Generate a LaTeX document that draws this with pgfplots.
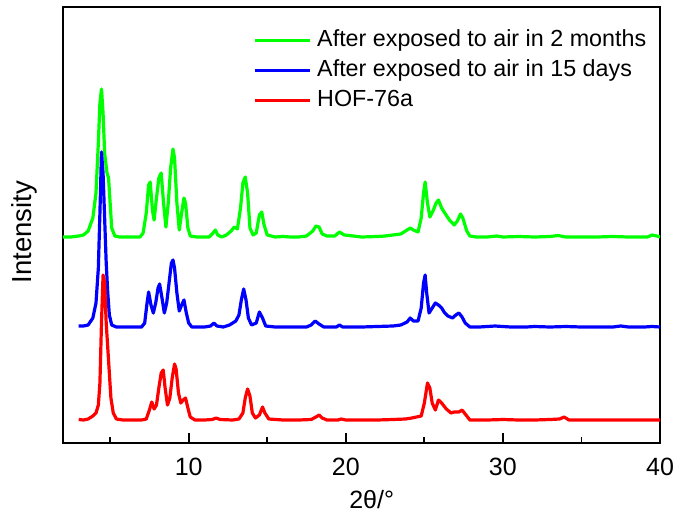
\documentclass[border=0pt]{standalone}
\usepackage{fontspec}
\setmainfont{Liberation Sans}
\usepackage{pgfplots}
\pgfplotsset{compat=1.18}
\definecolor{cgreen}{RGB}{0,255,0}
\definecolor{cblue}{RGB}{0,0,255}
\definecolor{cred}{RGB}{255,0,0}
\begin{document}
\begin{tikzpicture}
\begin{axis}[
  scale only axis, width=597pt, height=436pt,
  xmin=2, xmax=40, ymin=0, ymax=436,
  axis line style={line width=2.6pt},
  xtick={10,20,30,40}, minor xtick={5,15,25,35}, ytick=\empty,
  xtick pos=bottom, tick align=inside,
  major tick length=10pt, minor tick length=6pt,
  every tick/.style={line width=1.8pt, black},
  /pgf/number format/assume math mode=true,
  tick label style={font=\fontsize{25}{30}\selectfont},
  xticklabel style={anchor=base, yshift=-32pt},
  xlabel={2θ/°}, ylabel={Intensity},
  label style={font=\fontsize{25}{30}\selectfont},
  xlabel style={at={(axis description cs:0.517,-0.151)}, anchor=base},
  ylabel style={at={(axis description cs:-0.052,0.484)}, anchor=base, font=\fontsize{27.5}{32}\selectfont},
  legend cell align=left,
  legend style={at={(axis description cs:0.318,0.9495)}, anchor=north west, draw=none, fill=none,
    inner sep=0pt, column sep=6pt, row sep=8pt,
    nodes={inner sep=0pt, text height=17pt, text depth=5pt, font=\fontsize{23.3}{28}\selectfont}},
  legend image code/.code={\draw[#1] (0pt,0pt) -- (55pt,0pt);},
  every axis plot/.append style={line width=3.2pt, line join=round},
]
\addplot[cgreen] coordinates {
(2.0,206) (2.5,206) (3.0,207) (3.3,208) (3.6,212) (3.9,225) (4.1,250) (4.25,300) (4.35,340) (4.45,354) (4.55,330) (4.65,290) (4.8,270) (4.9,265) (5.0,240) (5.1,215) (5.3,207) (5.6,206) (6.5,206) (6.9,206) (7.1,210) (7.3,230) (7.45,258) (7.55,261) (7.7,232) (7.8,223) (7.95,245) (8.1,265) (8.25,270) (8.4,240) (8.55,216) (8.7,240) (8.85,275) (9.0,294) (9.1,285) (9.25,240) (9.4,213) (9.55,230) (9.7,245) (9.8,240) (9.95,215) (10.1,207) (10.5,206) (11.3,206) (11.55,210) (11.7,213) (11.85,208) (12.1,206) (12.4,208) (12.7,212) (12.9,216) (13.1,214) (13.3,235) (13.45,260) (13.6,266) (13.75,250) (13.9,215) (14.1,208) (14.3,210) (14.5,228) (14.65,231) (14.8,218) (15.0,208) (15.5,206) (16.0,206.5) (16.5,206) (17.0,206) (17.5,207) (17.9,212) (18.1,217) (18.3,216) (18.5,209) (18.8,207) (19.3,207) (19.6,211) (19.9,208) (20.5,207) (21,206) (22,206.5) (22.5,207) (23,208) (23.5,209) (23.8,212) (24.1,215) (24.3,213) (24.6,211) (24.8,225) (24.95,250) (25.05,261) (25.2,240) (25.35,226) (25.55,232) (25.75,240) (25.9,243) (26.1,235) (26.3,230) (26.6,223) (26.9,218) (27.1,222) (27.3,229) (27.45,225) (27.7,212) (27.9,207) (28.3,206) (29,206) (29.6,207) (30,206) (31,206.5) (32,206) (33,206.5) (33.5,207.5) (34,206) (35,206) (36,206) (37,206.5) (38,206) (39.2,206) (39.5,208) (39.8,207) (40,206)
};
\addlegendentry{After exposed to air in 2 months}
\addplot[cblue] coordinates {
(3.0,117) (3.3,117) (3.6,118) (3.9,125) (4.1,140) (4.25,175) (4.35,230) (4.45,291) (4.55,270) (4.65,225) (4.75,180) (4.85,150) (4.95,128) (5.1,118) (5.4,116) (6,116) (7.0,116) (7.2,120) (7.35,140) (7.45,151) (7.6,138) (7.75,130) (7.9,140) (8.05,155) (8.15,159) (8.3,145) (8.45,130) (8.6,140) (8.75,160) (8.9,180) (9.0,183) (9.1,175) (9.25,150) (9.4,132) (9.55,138) (9.7,143) (9.85,130) (10.0,120) (10.2,116) (11.0,116) (11.4,117) (11.6,120) (11.8,117) (12.2,116) (12.6,118) (13.0,122) (13.2,128) (13.35,143) (13.5,154) (13.65,143) (13.8,125) (14.0,118) (14.3,120) (14.5,131) (14.7,125) (14.9,117) (15.5,116) (16.5,116) (17.5,116) (17.8,118) (18.05,122) (18.3,119) (18.6,116) (19.4,116) (19.6,118) (19.8,116) (21,116) (22,116.5) (23,117) (23.5,118) (23.9,121) (24.1,125) (24.3,122) (24.6,122) (24.8,135) (24.95,160) (25.05,168) (25.15,150) (25.3,130) (25.5,135) (25.7,140) (25.9,138) (26.1,135) (26.3,130) (26.5,127) (26.8,125) (27.0,128) (27.2,130) (27.4,126) (27.6,120) (27.9,116) (28.5,116) (29.5,117) (30.5,116) (31.5,116) (32,116.5) (33,116) (34,116.5) (35,116) (36,116) (37,116) (37.5,117) (38,116) (39,116) (39.5,116.5) (40,116)
};
\addlegendentry{After exposed to air in 15 days}
\addplot[cred] coordinates {
(3.0,23.5) (3.3,23) (3.6,24) (3.9,27) (4.1,30) (4.25,38) (4.35,60) (4.45,120) (4.55,168) (4.65,160) (4.75,120) (4.85,95) (4.95,70) (5.05,45) (5.2,30) (5.4,24) (5.8,23) (6.5,23) (7.0,23) (7.3,24) (7.5,33) (7.65,41) (7.8,34) (7.95,38) (8.1,55) (8.25,70) (8.38,73) (8.5,55) (8.65,38) (8.8,45) (8.95,65) (9.1,79) (9.2,74) (9.35,50) (9.5,40) (9.65,43) (9.8,45) (9.95,35) (10.1,26) (10.4,23) (11.0,23) (11.5,23.5) (11.75,25) (12.0,23.5) (12.8,23) (13.2,24) (13.45,30) (13.6,45) (13.75,54) (13.9,47) (14.05,30) (14.25,25) (14.5,28) (14.7,36) (14.85,30) (15.1,24) (16,23) (17,23) (17.8,23.5) (18.1,26) (18.3,28) (18.5,25) (18.8,23) (19.5,23) (19.7,24) (20,23) (21,23) (22,23) (23,23.5) (23.8,24) (24.2,25) (24.5,26) (24.8,27) (25.0,40) (25.2,60) (25.35,55) (25.5,40) (25.7,33) (25.9,43) (26.1,40) (26.4,34) (26.7,30) (26.9,31) (27.2,31) (27.4,33) (27.6,29) (27.9,23) (28.5,23) (29,23) (30,23.5) (31,23) (32,23) (33,23.5) (33.6,24) (33.9,26) (34.2,23) (35,23) (36,23) (37,23) (38,23) (39,23) (40,23)
};
\addlegendentry{HOF-76a}
\end{axis}
\pgfresetboundingbox
\path ([shift={(-63pt,-72pt)}]current axis.south west) rectangle ([shift={(18pt,7pt)}]current axis.north east);
\end{tikzpicture}
\end{document}
